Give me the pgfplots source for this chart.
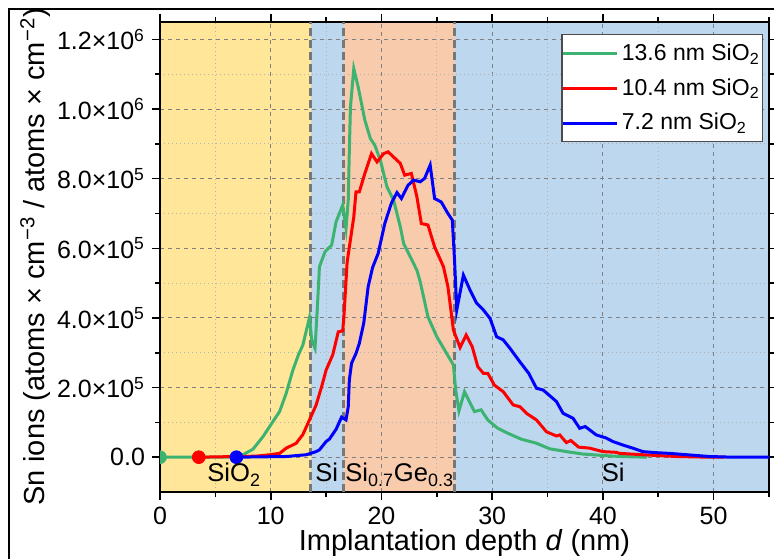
\documentclass[border=0pt]{standalone}
\usepackage{pgfplots}
\pgfplotsset{compat=1.18}
\usepackage{fontspec}
\setmainfont{Liberation Sans}
\definecolor{cyel}{RGB}{255,230,153}
\definecolor{cblu}{RGB}{189,215,238}
\definecolor{cora}{RGB}{248,203,173}
\definecolor{cgreen}{RGB}{60,179,113}
\definecolor{cdash}{RGB}{120,120,120}
\begin{document}
\begin{tikzpicture}
\begin{axis}[
  set layers=standard,
  scale only axis, width=304.5pt, height=235pt,
  xmin=0, xmax=55, ymin=-1, ymax=12.5,
  xtick={0,10,20,30,40,50}, minor xtick={5,15,25,35,45,55},
  ytick={0,2,4,6,8,10,12}, minor ytick={1,3,5,7,9,11},
  yticklabels={0.0, 2.0×10\textsuperscript{5}, 4.0×10\textsuperscript{5}, 6.0×10\textsuperscript{5}, 8.0×10\textsuperscript{5}, 1.0×10\textsuperscript{6}, 1.2×10\textsuperscript{6}},
  scaled y ticks=false,
  tick align=outside,
  major tick length=4pt, minor tick length=2.5pt,
  every tick/.style={black, line width=0.8pt},
  axis line style={line width=1pt},
  grid=both,
  major grid style={color=gray, line width=0.5pt, dash pattern=on 2pt off 2pt},
  minor grid style={color=gray!60, line width=0.5pt, dash pattern=on 0.6pt off 1.4pt},
  tick label style={font=\fontsize{12.5}{15}\selectfont},
  xticklabel style={inner ysep=0.5pt, yshift=-2.8pt},
  /pgf/number format/assume math mode=true,
  clip marker paths=true,
  xlabel={Implantation depth \textit{d} (nm)},
  ylabel={Sn ions (atoms × cm\textsuperscript{−3} / atoms × cm\textsuperscript{−2})},
  label style={font=\fontsize{14.5}{17}\selectfont},
  xlabel style={at={(axis description cs:0.5,0)}, anchor=north, inner sep=0pt, yshift=-18.5pt},
  ylabel style={at={(axis description cs:-0.189,0.5)}, anchor=base, inner sep=0pt},
  legend style={at={(rel axis cs:1,1)}, anchor=north east, xshift=-2.85pt, yshift=-6.15pt,
    font=\fontsize{11.5}{13}\selectfont, draw=black!70, line width=0.6pt,
    inner xsep=0pt, inner ysep=2.5pt, row sep=3.5pt, cells={anchor=west},
    nodes={inner xsep=1.5pt}},
  legend image code/.code={\draw[#1] (0pt,0pt) -- (27pt,0pt);},
]
% layer regions
\addplot[forget plot, draw=none, fill=cyel, on layer=axis background] coordinates {(0,-1) (13.6,-1) (13.6,12.5) (0,12.5)} -- cycle;
\addplot[forget plot, draw=none, fill=cblu, on layer=axis background] coordinates {(13.6,-1) (16.6,-1) (16.6,12.5) (13.6,12.5)} -- cycle;
\addplot[forget plot, draw=none, fill=cora, on layer=axis background] coordinates {(16.6,-1) (26.6,-1) (26.6,12.5) (16.6,12.5)} -- cycle;
\addplot[forget plot, draw=none, fill=cblu, on layer=axis background] coordinates {(26.6,-1) (55,-1) (55,12.5) (26.6,12.5)} -- cycle;
% interfaces
\addplot[forget plot, cdash, line width=1.5pt, dash pattern=on 4pt off 2pt] coordinates {(13.6,-1) (13.6,12.5)};
\addplot[forget plot, cdash, line width=1.5pt, dash pattern=on 4pt off 2pt] coordinates {(16.6,-1) (16.6,12.5)};
\addplot[forget plot, cdash, line width=1.5pt, dash pattern=on 4pt off 2pt] coordinates {(26.6,-1) (26.6,12.5)};
% profiles (y in units of 1e5)
\addplot[cgreen, line width=1.5pt] coordinates {
(0,0) (7.0,0) (7.2,0.02) (8.4,0.23) (9.3,0.59) (9.9,0.88) (10.4,1.12) (10.8,1.31) (11.4,1.84) (12.0,2.50) (12.5,2.94) (12.9,3.22) (13.5,4.01) (13.7,3.37) (14.0,3.13) (14.2,4.23) (14.4,5.47) (14.9,5.90) (15.5,6.09) (15.9,6.76) (16.5,7.24) (16.8,6.57) (17.0,7.38) (17.1,8.82) (17.2,10.06) (17.5,11.16) (17.9,10.63) (18.5,9.68) (19.0,9.15) (19.4,8.96) (19.9,8.53) (20.5,7.76) (21.1,7.38) (21.7,6.62) (22.0,6.14) (22.6,5.76) (23.2,5.37) (23.5,5.04) (24.2,4.03) (25.0,3.46) (25.7,3.08) (26.5,2.65) (26.7,1.93) (27.0,1.33) (27.5,1.88) (28.4,1.31) (29.0,1.36) (29.6,1.07) (30.5,0.83) (31.4,0.69) (32.6,0.52) (34.0,0.40) (35.2,0.24) (36.7,0.16) (38.2,0.09) (40.0,0.05) (41.5,0.02) (44,0)
};
\addlegendentry{13.6 nm SiO\textsubscript{2}}
\addplot[red, line width=1.5pt] coordinates {
(3.5,0) (8.7,0.03) (9.9,0.07) (10.8,0.11) (11.4,0.26) (12.3,0.40) (12.9,0.65) (13.5,1.07) (14.1,1.50) (14.6,2.03) (15.0,2.50) (15.6,2.94) (16.1,3.60) (16.5,3.63) (16.6,4.0) (16.9,5.6) (17.5,6.90) (17.7,7.62) (18.0,7.62) (18.5,8.15) (19.1,8.72) (19.6,8.48) (20.2,8.72) (20.6,8.77) (21.4,8.53) (21.7,8.44) (22.1,8.10) (22.7,8.15) (23.2,7.48) (23.6,6.71) (24.2,6.67) (24.8,6.04) (25.6,5.47) (26.0,4.90) (26.5,3.65) (27.1,3.15) (27.65,3.51) (28.2,3.17) (28.7,2.60) (29.2,2.41) (29.6,2.41) (30.2,2.07) (31.0,1.88) (31.9,1.50) (32.5,1.45) (33.1,1.26) (34.0,1.07) (34.9,0.73) (35.8,0.61) (36.1,0.64) (36.7,0.42) (37.1,0.48) (37.8,0.29) (38.8,0.26) (40.0,0.16) (41.2,0.14) (41.5,0.11) (43.6,0.07) (46.6,0.02) (49.6,0) (51,0)
};
\addlegendentry{10.4 nm SiO\textsubscript{2}}
\addplot[blue, line width=1.5pt] coordinates {
(6.9,0) (11.4,0.02) (13.2,0.07) (14.1,0.16) (14.4,0.21) (15.0,0.45) (15.3,0.52) (15.9,0.80) (16.4,1.15) (16.8,1.07) (17.0,1.45) (17.1,2.22) (17.3,2.70) (17.7,2.98) (18.0,3.27) (18.4,3.85) (18.8,4.90) (19.2,5.45) (19.7,5.85) (20.3,6.71) (20.9,7.30) (21.4,7.60) (21.8,7.43) (22.4,7.81) (22.9,7.96) (23.5,7.91) (23.9,8.01) (24.4,8.39) (24.8,7.43) (25.4,7.33) (26.0,7.00) (26.4,6.81) (26.6,5.66) (26.8,4.23) (27.4,5.23) (28.0,4.80) (28.6,4.42) (29.2,4.23) (29.8,3.99) (30.4,3.46) (31.0,3.37) (31.6,3.13) (32.5,2.74) (33.3,2.41) (34.0,1.98) (34.6,1.93) (35.8,1.60) (36.4,1.26) (37.3,1.12) (37.9,0.83) (38.4,0.88) (39.4,0.64) (40.3,0.55) (40.9,0.45) (41.8,0.35) (42.7,0.26) (43.6,0.16) (44.8,0.13) (46.0,0.11) (47.6,0.07) (49.6,0.02) (51.7,0) (55,0)
};
\addlegendentry{7.2 nm SiO\textsubscript{2}}
% surface markers
\addplot[forget plot, only marks, mark=*, mark size=3.2pt, cgreen] coordinates {(0,0)};
\addplot[forget plot, only marks, mark=*, mark size=3.2pt, red] coordinates {(3.5,0)};
\addplot[forget plot, only marks, mark=*, mark size=3.2pt, blue] coordinates {(6.9,0)};
% layer names
\node[anchor=base west, inner sep=0pt, font=\fontsize{12.8}{15}\selectfont] at (axis cs:4.24,-0.71) {SiO\textsubscript{2}};
\node[anchor=base west, inner sep=0pt, font=\fontsize{12.8}{15}\selectfont] at (axis cs:14.0,-0.71) {Si};
\node[anchor=base west, inner sep=0pt, font=\fontsize{12.8}{15}\selectfont] at (axis cs:16.7,-0.71) {Si\textsubscript{0.7}Ge\textsubscript{0.3}};
\node[anchor=base west, inner sep=0pt, font=\fontsize{12.8}{15}\selectfont] at (axis cs:39.86,-0.71) {Si};
\end{axis}
\draw[line width=1pt] (-75.5pt,-40pt) -- (-75.5pt,241.5pt) -- (320pt,241.5pt);
\pgfresetboundingbox
\useasboundingbox (-80pt,-33pt) rectangle (307pt,246pt);
\end{tikzpicture}
\end{document}
